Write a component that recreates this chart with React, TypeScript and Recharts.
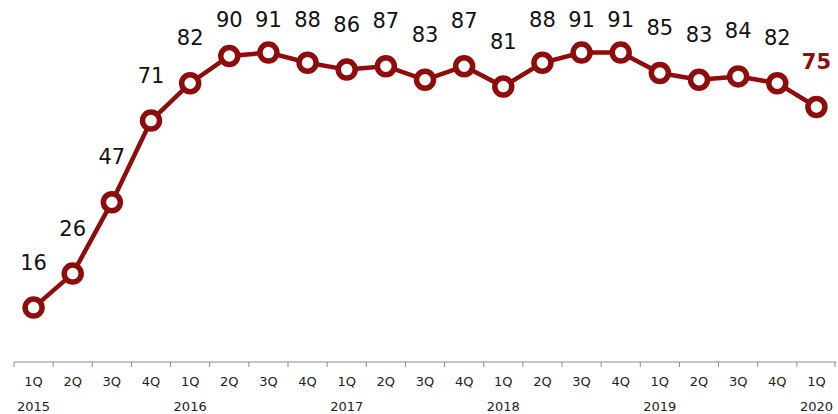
import { LabelList, Line, LineChart, XAxis, YAxis } from 'recharts';

const quarters = [
  '1Q', '2Q', '3Q', '4Q',
  '1Q', '2Q', '3Q', '4Q',
  '1Q', '2Q', '3Q', '4Q',
  '1Q', '2Q', '3Q', '4Q',
  '1Q', '2Q', '3Q', '4Q',
  '1Q'
];
const years = ['2015', '', '', '', '2016', '', '', '', '2017', '', '', '', '2018', '', '', '', '2019', '', '', '', '2020'];
const values = [16, 26, 47, 71, 82, 90, 91, 88, 86, 87, 83, 87, 81, 88, 91, 91, 85, 83, 84, 82, 75];

const W = 838;
const H = 414;
const M = { top: 22, right: 2, left: 14, bottom: 0 };
const AXIS_H = 52;
const axisY = H - M.bottom - AXIS_H;
const band = (W - M.left - M.right) / quarters.length;
const red = '#8e0c0c';
const grey = '#8c8c8c';
const font = '"DejaVu Sans", Verdana, sans-serif';

const rows = quarters.map((q, i) => ({ key: `${i}`, q, year: years[i], value: values[i] }));

// quarter label, year label under each 1Q, and tick marks on the band edges
function QuarterTick(props: any) {
  const { x, index } = props;
  const row = rows[index];
  const last = index === rows.length - 1;
  return (
    <g>
      <line x1={x - band / 2} x2={x - band / 2} y1={axisY} y2={axisY + 5} stroke={grey} />
      {last && <line x1={x + band / 2 - 1} x2={x + band / 2 - 1} y1={axisY} y2={axisY + 5} stroke={grey} />}
      <text x={x} y={axisY + 19} textAnchor="middle" dominantBaseline="central" fontSize={13} fill="#222" fontFamily={font}>
        {row.q}
      </text>
      {row.year && (
        <text x={x} y={axisY + 44} textAnchor="middle" dominantBaseline="central" fontSize={13} fill="#222" fontFamily={font}>
          {row.year}
        </text>
      )}
    </g>
  );
}

function ValueLabel(props: any) {
  const { x, y, value, index } = props;
  const last = index === rows.length - 1;
  return (
    <text
      x={x}
      y={Math.max(y - 45, 20)}
      textAnchor="middle"
      dominantBaseline="central"
      fontSize={21}
      fontWeight={last ? 'bold' : 'normal'}
      fill={last ? red : '#111'}
      fontFamily={font}
    >
      {value}
    </text>
  );
}

export default function App() {
  return (
    <div style={{ position: 'absolute', left: 0, top: 0, background: '#fff' }}>
      <LineChart width={W} height={H} data={rows} margin={M}>
        <XAxis
          dataKey="key"
          interval={0}
          height={AXIS_H}
          padding={{ left: band / 2, right: band / 2 }}
          axisLine={{ stroke: grey }}
          tickLine={false}
          tick={<QuarterTick />}
        />
        <YAxis hide domain={[0, 100]} />
        <Line
          dataKey="value"
          stroke={red}
          strokeWidth={4.5}
          dot={{ r: 8.5, fill: '#fff', stroke: red, strokeWidth: 5.5 }}
          activeDot={false}
          isAnimationActive={false}
        >
          <LabelList dataKey="value" content={<ValueLabel />} />
        </Line>
      </LineChart>
    </div>
  );
}
